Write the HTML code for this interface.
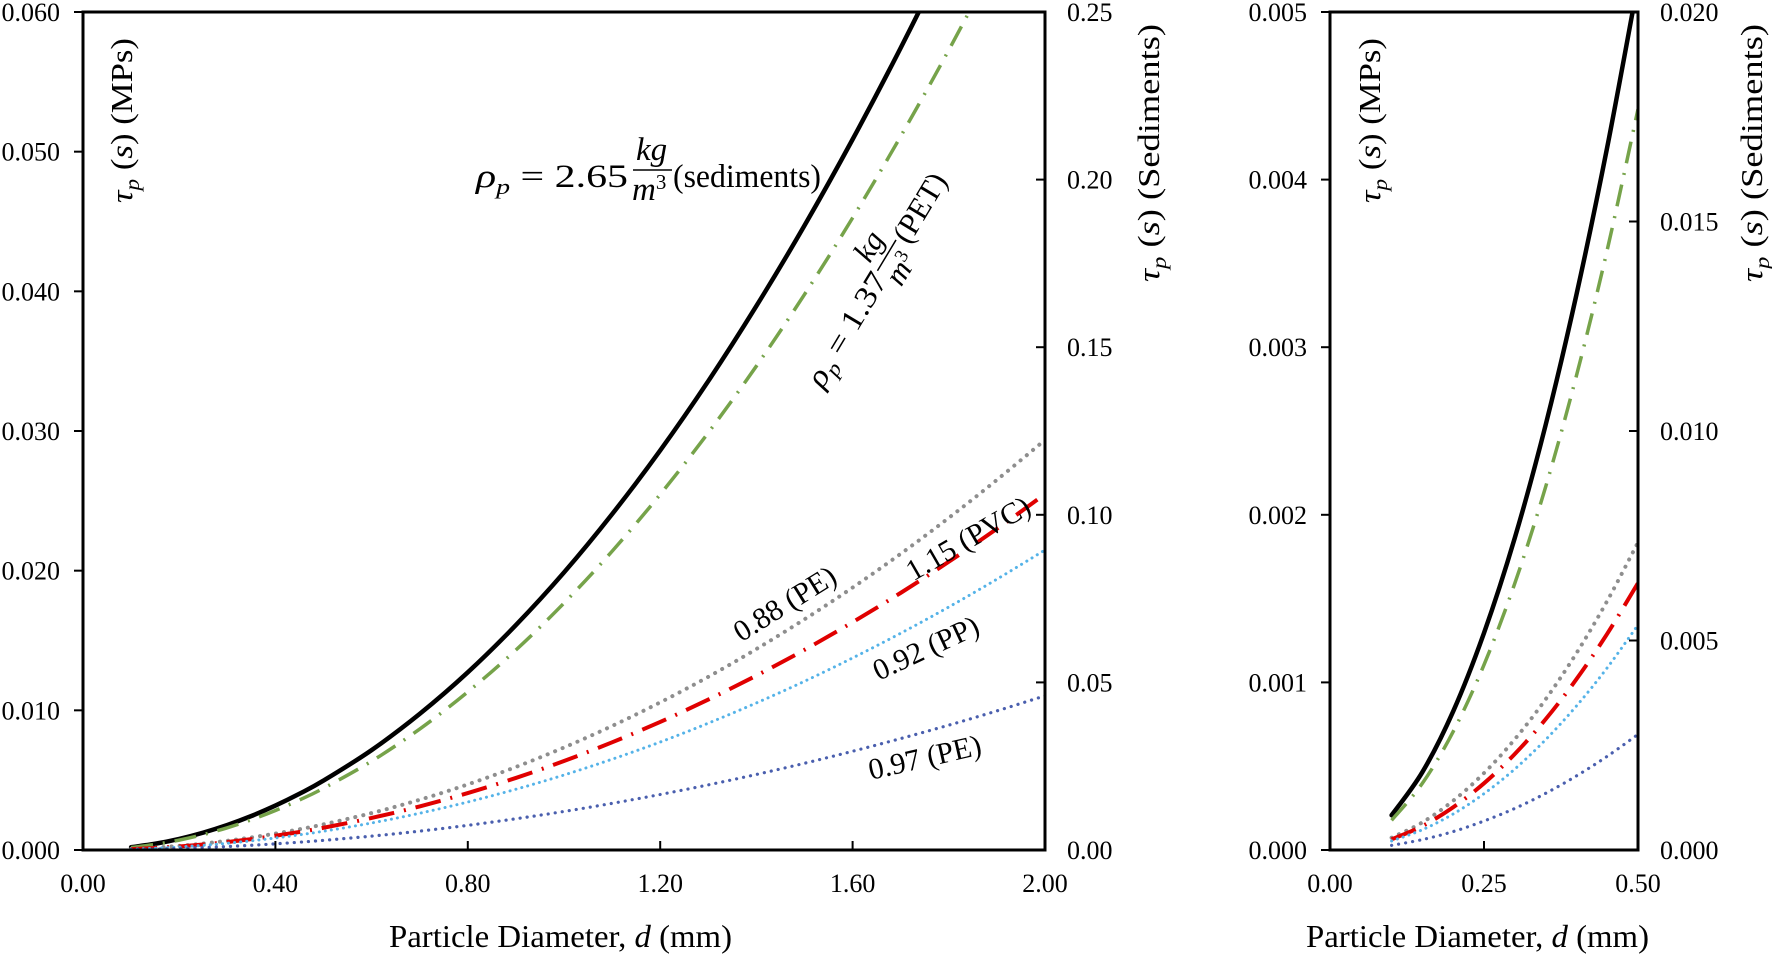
<!DOCTYPE html>
<html><head><meta charset="utf-8"><style>
html,body{margin:0;padding:0;background:#fff;}
svg text{font-family:"Liberation Serif",serif;fill:#000;}
</style></head><body>
<svg id="chart" width="1772" height="956" viewBox="0 0 1772 956" xmlns="http://www.w3.org/2000/svg">
<defs>
<clipPath id="clipMain"><rect x="83" y="12" width="962" height="838"/></clipPath>
<clipPath id="clipSmall"><rect x="1330" y="12" width="308" height="838"/></clipPath>
</defs>
<g id="main"></g>
<g id="small"></g>
<g>
  <g font-size="33">
    <text x="476" y="187" font-style="italic" textLength="152" lengthAdjust="spacingAndGlyphs">ρ<tspan font-size="22" dy="7">p</tspan><tspan dy="-7" font-style="normal"> = 2.65</tspan></text>
    <text x="636" y="160" font-style="italic">kg</text>
    <line x1="633" y1="170" x2="672" y2="170" stroke="#000" stroke-width="1.5"/>
    <text x="632" y="200" font-style="italic">m<tspan font-style="normal" font-size="21" dy="-11">3</tspan></text>
    <text x="673" y="187" textLength="148" lengthAdjust="spacingAndGlyphs">(sediments)</text>
  </g>
  <g font-size="31" transform="translate(885,266) rotate(-59)">
    <text x="-138" y="10" font-style="italic" textLength="128" lengthAdjust="spacingAndGlyphs">ρ<tspan font-size="21" dy="6">p</tspan><tspan dy="-6" font-style="normal"> = 1.37</tspan></text>
    <text x="-6" y="-14" font-style="italic">kg</text>
    <line x1="-8" y1="-4" x2="28" y2="-4" stroke="#000" stroke-width="1.5"/>
    <text x="-10" y="25" font-style="italic">m<tspan font-style="normal" font-size="19" dy="-10">3</tspan></text>
    <text x="30" y="10">(PET)</text>
  </g>
  <text font-size="30" text-anchor="middle" transform="translate(790,612) rotate(-32)">0.88 (PE)</text>
  <text font-size="30" text-anchor="middle" transform="translate(973,547) rotate(-30)">1.15 (PVC)</text>
  <text font-size="30" text-anchor="middle" transform="translate(930,657) rotate(-25)">0.92 (PP)</text>
  <text font-size="30" text-anchor="middle" transform="translate(927,767) rotate(-13)">0.97 (PE)</text>
</g>
</svg>
<script>
const diameters = [0.1,0.15,0.2,0.25,0.3,0.35,0.4,0.45,0.5,0.6,0.7,0.8,0.9,1.0,1.1,1.2,1.3,1.4,1.5,1.6,1.7,1.8,1.9,2.0];
const sediments = [0.00083,0.00186,0.00331,0.00518,0.00745,0.01014,0.01325,0.01677,0.0207,0.0298,0.0406,0.0530,0.0671,0.0828,0.1002,0.1192,0.1399,0.1623,0.1863,0.2120,0.2393,0.2683,0.2989,0.3312];
const pet = [0.000177,0.000398,0.000707,0.001105,0.001591,0.002166,0.002829,0.00358,0.00442,0.00636,0.00866,0.01132,0.01432,0.01768,0.02139,0.02546,0.02988,0.03465,0.03978,0.04526,0.0511,0.05728,0.06382,0.07072];
const pe088 = [0.0000734,0.000165,0.000294,0.000459,0.000661,0.000899,0.001174,0.001486,0.001835,0.002642,0.003597,0.004698,0.005945,0.00734,0.008881,0.01057,0.0124,0.01439,0.01652,0.01879,0.02121,0.02378,0.0265,0.02936];
const pvc = [0.0000637,0.000143,0.000255,0.000398,0.000573,0.00078,0.001019,0.00129,0.001593,0.002293,0.003121,0.004077,0.00516,0.00637,0.00771,0.00917,0.01077,0.01249,0.01433,0.01631,0.01841,0.02064,0.023,0.02548];
const pp = [0.0000537,0.000121,0.000215,0.000336,0.000483,0.000658,0.000859,0.001087,0.001343,0.001933,0.002631,0.003437,0.00435,0.00537,0.0065,0.00773,0.00908,0.01053,0.01208,0.01375,0.01552,0.0174,0.01939,0.02148];
const pe097 = [0.0000276,0.0000621,0.00011,0.000173,0.000248,0.000338,0.000442,0.000559,0.00069,0.000994,0.001352,0.001766,0.002236,0.00276,0.00334,0.003974,0.004664,0.00541,0.00621,0.00707,0.00798,0.00894,0.00996,0.01104];
const mainXTicks = ["0.00","0.40","0.80","1.20","1.60","2.00"];
const mainYLeftTicks = ["0.000","0.010","0.020","0.030","0.040","0.050","0.060"];
const mainYRightTicks = ["0.00","0.05","0.10","0.15","0.20","0.25"];
const smallXTicks = ["0.00","0.25","0.50"];
const smallYLeftTicks = ["0.000","0.001","0.002","0.003","0.004","0.005"];
const smallYRightTicks = ["0.000","0.005","0.010","0.015","0.020"];

const NS = "http://www.w3.org/2000/svg";
function mk(tag, attrs, parent){const e=document.createElementNS(NS,tag);for(const k in attrs)e.setAttribute(k,attrs[k]);parent.appendChild(e);return e;}

const styles = [
  {name:'sediments-curve', data:sediments, axis:'right', stroke:'#000', w:4.5, dash:null, cap:'round'},
  {name:'pet-curve', data:pet, axis:'left', stroke:'#76a34a', w:3.5, dash:'22 10 2 10', cap:'butt'},
  {name:'pe088-curve', data:pe088, axis:'left', stroke:'#8e8e8e', w:4, dash:'0.1 8', cap:'round'},
  {name:'pvc-curve', data:pvc, axis:'left', stroke:'#e00000', w:4, dash:'26 10 2 10', cap:'butt'},
  {name:'pp-curve', data:pp, axis:'left', stroke:'#55b3e8', w:3, dash:'0.1 6', cap:'round'},
  {name:'pe097-curve', data:pe097, axis:'left', stroke:'#4a5fae', w:3.2, dash:'0.1 7', cap:'round'}
];

function panel(gid, cfg){
  const g=document.getElementById(gid);
  const {x0,x1,y0,y1,xmax,ylmax,yrmax,xTicks,ylTicks,yrTicks,clip,lblX,lblY,dmax,yTitleLX,yTitleRX} = cfg;
  const xs=v=>x0+(v/xmax)*(x1-x0);
  const yl=v=>y1-(v/ylmax)*(y1-y0);
  const yr=v=>y1-(v/yrmax)*(y1-y0);
  const cg=mk('g',{'clip-path':'url(#'+clip+')'},g);
  
  
  styles.forEach(s=>{
    const pts=[];
    diameters.forEach((d,i)=>{ if(d<=dmax+1e-9){ pts.push([xs(d), s.axis==='right'?yr(s.data[i]):yl(s.data[i])]); } });
    let p='M'+pts[0][0].toFixed(2)+','+pts[0][1].toFixed(2);
    for(let i=0;i<pts.length-1;i++){
      const a=pts[Math.max(0,i-1)],b=pts[i],c=pts[i+1],e=pts[Math.min(pts.length-1,i+2)];
      const c1=[b[0]+(c[0]-a[0])/6,b[1]+(c[1]-a[1])/6], c2=[c[0]-(e[0]-b[0])/6,c[1]-(e[1]-b[1])/6];
      p+=' C'+c1[0].toFixed(2)+','+c1[1].toFixed(2)+' '+c2[0].toFixed(2)+','+c2[1].toFixed(2)+' '+c[0].toFixed(2)+','+c[1].toFixed(2);
    }
    const a={d:p,fill:'none',stroke:s.stroke,'stroke-width':s.w,'stroke-linecap':s.cap};
    if(s.dash)a['stroke-dasharray']=s.dash;
    const el=mk('path',a,cg);
    
    
  });
  const fr=mk('rect',{x:x0,y:y0,width:x1-x0,height:y1-y0,fill:'none',stroke:'#000','stroke-width':3},g);
  
  
  xTicks.forEach((t,i)=>{
    const x=x0+i*(x1-x0)/(xTicks.length-1);
    mk('line',{x1:x,y1:y1,x2:x,y2:y1-9,stroke:'#000','stroke-width':2},g);
    const tx=mk('text',{x:x,y:y1+42,'font-size':26,'text-anchor':'middle'},g);
    tx.textContent=t;
    
    
  });
  ylTicks.forEach((t,i)=>{
    const y=y1-i*(y1-y0)/(ylTicks.length-1);
    mk('line',{x1:x0-9,y1:y,x2:x0+1,y2:y,stroke:'#000','stroke-width':2},g);
    const tx=mk('text',{x:x0-23,y:y+9,'font-size':26,'text-anchor':'end'},g);
    tx.textContent=t;
    
    
  });
  yrTicks.forEach((t,i)=>{
    const y=y1-i*(y1-y0)/(yrTicks.length-1);
    mk('line',{x1:x1-9,y1:y,x2:x1,y2:y,stroke:'#000','stroke-width':2},g);
    const tx=mk('text',{x:x1+22,y:y+9,'font-size':26,'text-anchor':'start'},g);
    tx.textContent=t;
    
    
  });
  const xt=mk('text',{x:lblX-171,y:lblY,'font-size':32,'text-anchor':'start',textLength:343,lengthAdjust:'spacingAndGlyphs'},g);
  xt.innerHTML='Particle Diameter, <tspan font-style="italic">d</tspan> (mm)';
  
  
  const lt=mk('text',{'font-size':31,'text-anchor':'start',textLength:165,lengthAdjust:'spacingAndGlyphs',transform:'translate('+yTitleLX+',203) rotate(-90)'},g);
  lt.innerHTML='<tspan font-style="italic">τ<tspan font-size="21" dy="7">p</tspan></tspan><tspan dy="-7"> (</tspan><tspan font-style="italic">s</tspan>) (MPs)';
  
  
  const rt=mk('text',{'font-size':31,'text-anchor':'start',textLength:258,lengthAdjust:'spacingAndGlyphs',transform:'translate('+yTitleRX+',282) rotate(-90)'},g);
  rt.innerHTML='<tspan font-style="italic">τ<tspan font-size="21" dy="7">p</tspan></tspan><tspan dy="-7"> (</tspan><tspan font-style="italic">s</tspan>) (Sediments)';
  
  
}
panel('main',{x0:83,x1:1045,y0:12,y1:850,xmax:2.0,ylmax:0.06,yrmax:0.25,xTicks:mainXTicks,ylTicks:mainYLeftTicks,yrTicks:mainYRightTicks,clip:'clipMain',lblX:560,lblY:947,dmax:2.0,yTitleLX:132,yTitleRX:1159});
panel('small',{x0:1330,x1:1638,y0:12,y1:850,xmax:0.5,ylmax:0.005,yrmax:0.020,xTicks:smallXTicks,ylTicks:smallYLeftTicks,yrTicks:smallYRightTicks,clip:'clipSmall',lblX:1477,lblY:947,dmax:0.5,yTitleLX:1380,yTitleRX:1762});
</script>
</body></html>
